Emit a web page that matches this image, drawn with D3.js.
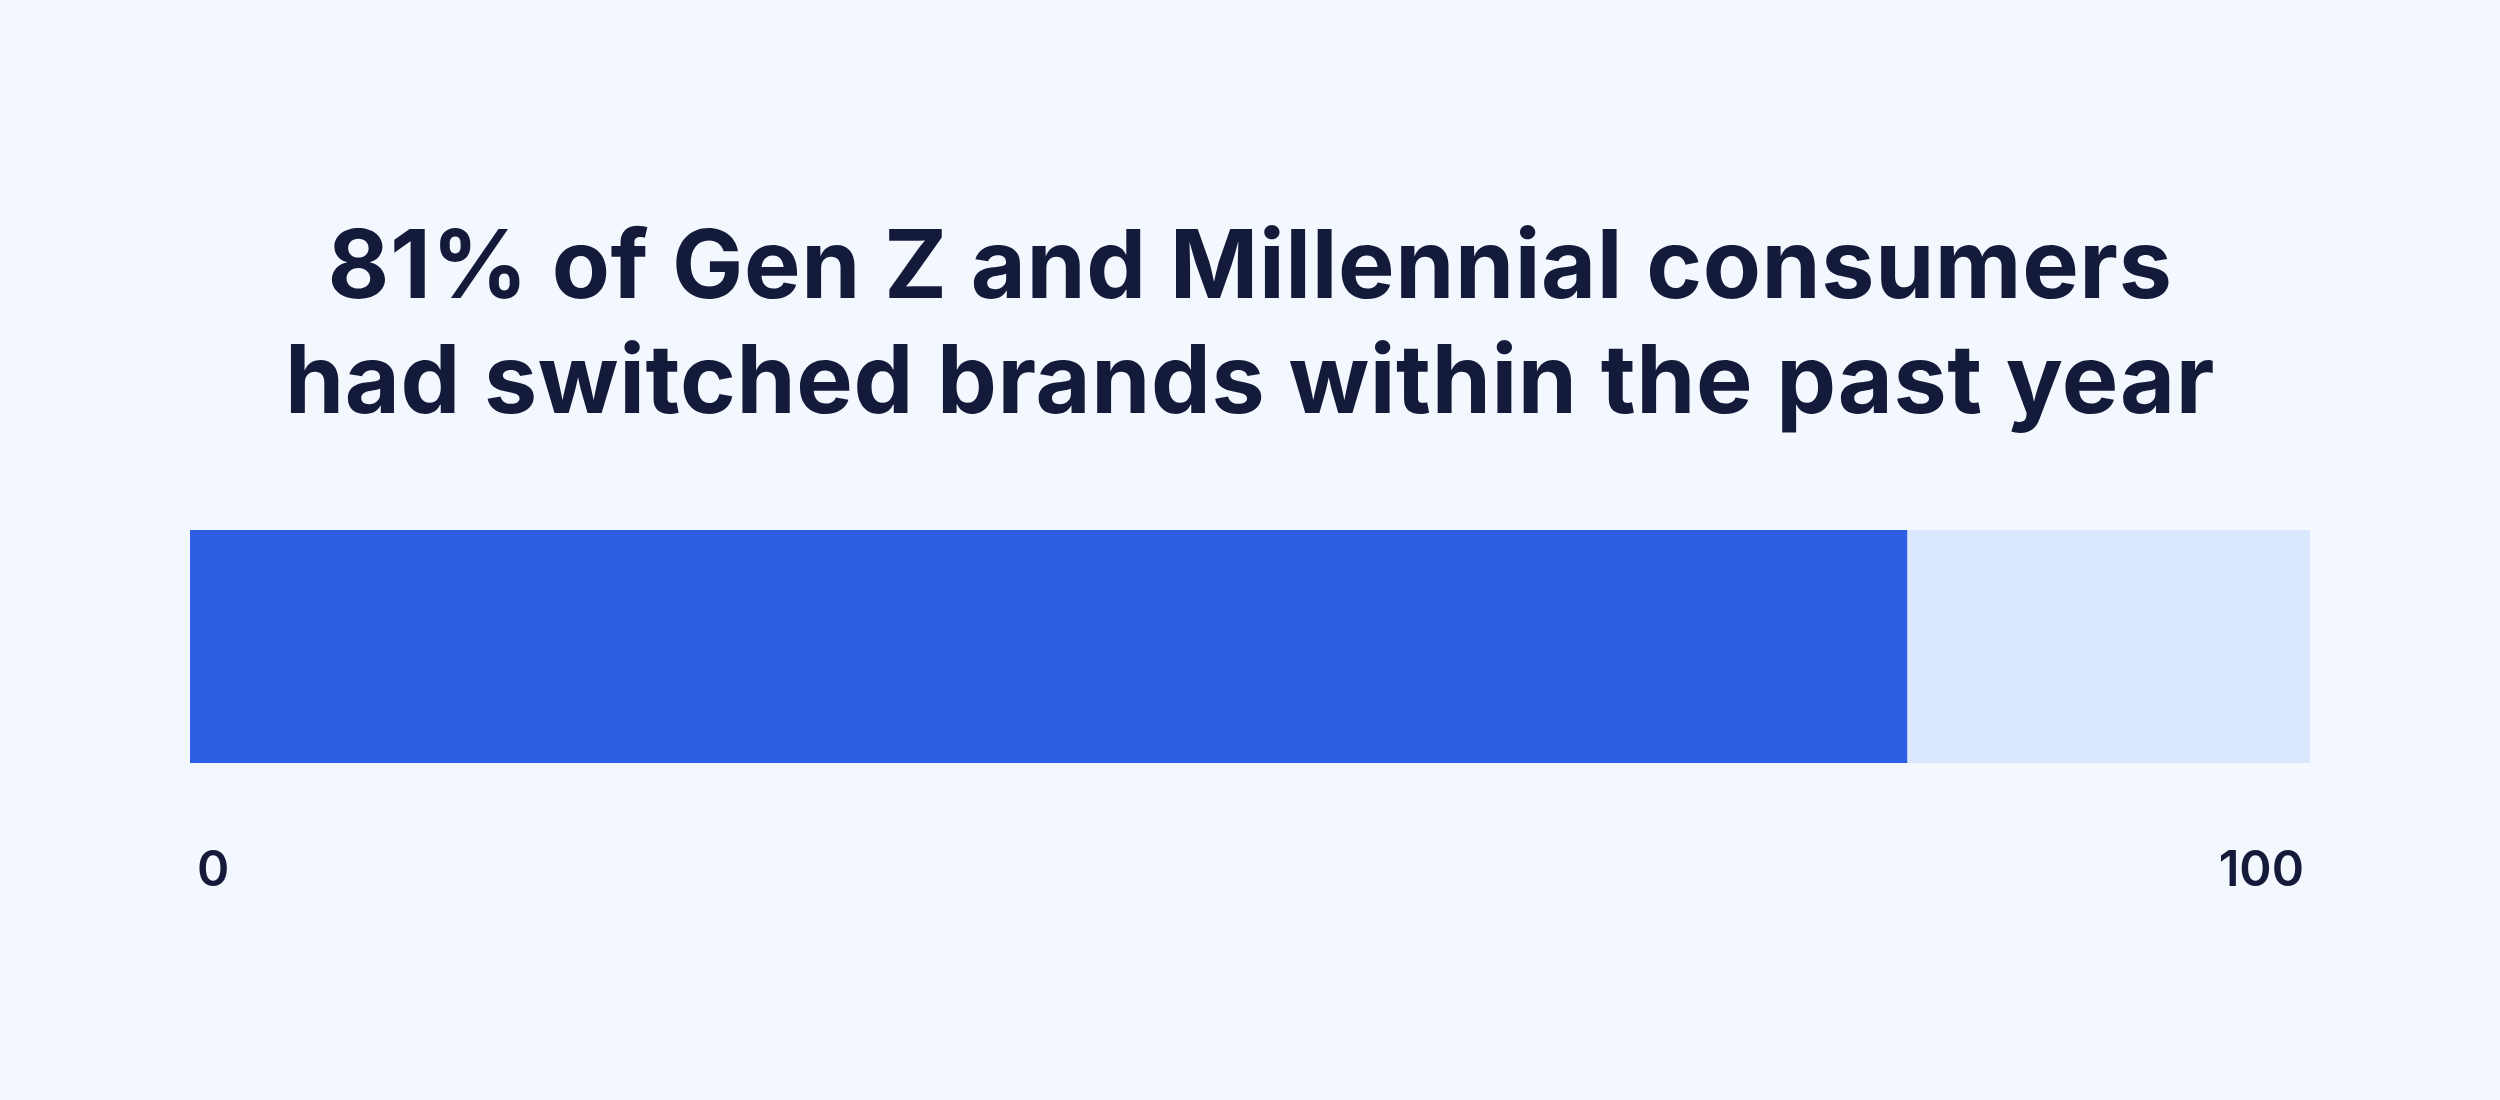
<!DOCTYPE html>
<html>
<head>
<meta charset="utf-8">
<script src="https://cdn.jsdelivr.net/npm/d3@7"></script>
<style>
  body { margin: 0; background: #f3f8fe; }
  svg { display: block; }
</style>
</head>
<body>
<div id="chart"></div>
<script>
// Chart data
const titleLines = ["81% of Gen Z and Millennial consumers", "had switched brands within the past year"];
const shareValue = 81;
const domainMax = 100;
const tickValues = [0, 100];

const width = 2500;
const height = 1100;
const margin = {left: 190, right: 190};

const svg = d3.select("#chart")
    .append("svg")
    .attr("width", width)
    .attr("height", height);

svg.append("rect")
    .attr("width", width)
    .attr("height", height)
    .attr("fill", "#f3f8fe");

const xScale = d3.scaleLinear()
    .domain([0, domainMax])
    .range([margin.left, width - margin.right]);

// Title
svg.selectAll("text.title")
    .data(titleLines)
    .enter()
    .append("text")
        .attr("class", "title")
        .attr("x", width / 2)
        .attr("y", function(d, i) { return 298 + i * 115; })
        .attr("text-anchor", "middle")
        .style("font-family", "Inter, 'Open Sans', sans-serif")
        .style("font-weight", 700)
        .style("font-size", "95px")
        .style("letter-spacing", "0.6px")
        .style("fill", "#141a3a")
        .text(function(d) { return d; });

// Track and filled bar
svg.append("rect")
    .attr("x", xScale(0))
    .attr("y", 530)
    .attr("width", xScale(domainMax) - xScale(0))
    .attr("height", 233)
    .attr("fill", "#dbe7fd");

svg.append("rect")
    .attr("x", xScale(0))
    .attr("y", 530)
    .attr("width", xScale(shareValue) - xScale(0))
    .attr("height", 233)
    .attr("fill", "#2e5ee3");

// Axis end labels
svg.selectAll("text.tick")
    .data(tickValues)
    .enter()
    .append("text")
        .attr("class", "tick")
        .attr("x", function(d, i) { return i === 0 ? xScale(d) + 7 : xScale(d) - 6; })
        .attr("y", 886)
        .attr("text-anchor", function(d, i) { return i === 0 ? "start" : "end"; })
        .style("font-family", "Inter, 'Open Sans', sans-serif")
        .style("font-weight", 600)
        .style("font-size", "49px")
        .style("fill", "#141a3a")
        .text(function(d) { return d; });
</script>
</body>
</html>
